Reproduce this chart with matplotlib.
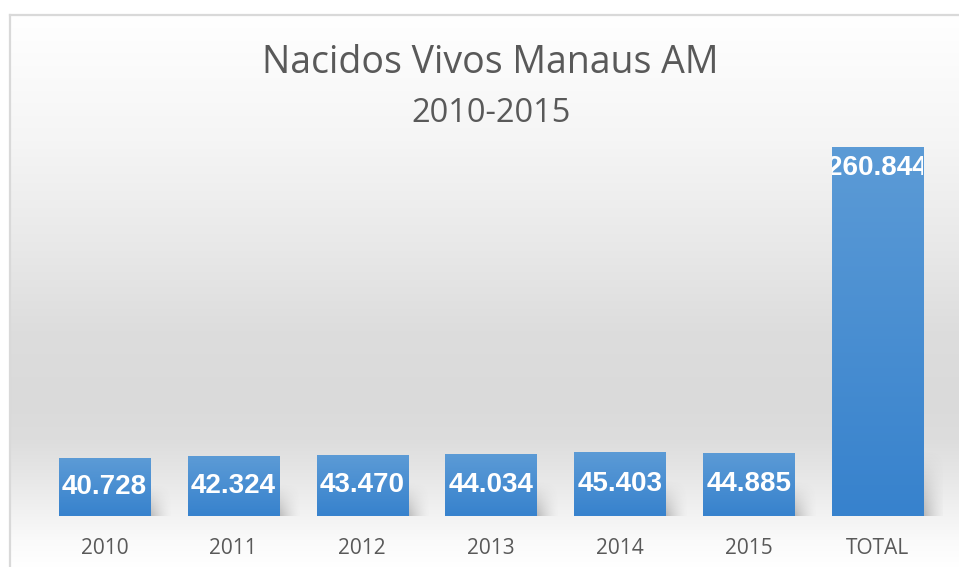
import numpy as np
import matplotlib
matplotlib.use("Agg")
from matplotlib import pyplot as plt
from matplotlib.lines import Line2D

# data
categorias = ["2010", "2011", "2012", "2013", "2014", "2015", "TOTAL"]
nacidos = [40728, 42324, 43470, 44034, 45403, 44885, 260844]
rotulos = ["40.728", "42.324", "43.470", "44.034", "45.403", "44.885", "260.844"]

W, H = 959, 567
fig = plt.figure(figsize=(W / 100, H / 100), dpi=100)

def fx(px):
    return px / W

def fy(py):
    return 1 - py / H

# background with vertical grey gradient inside the chart frame
bg = fig.add_axes([0, 0, 1, 1], zorder=0)
bg.set_axis_off()
rows = np.arange(H)
stops_y = [0, 15, 140, 250, 330, 400, 440, 480, 540, 567]
stops_v = [255, 255, 245, 232, 221, 218, 221, 232, 250, 255]
col = np.interp(rows, stops_y, stops_v) / 255.0
img = np.ones((H, W, 3))
img[:, :, :] = col[:, None, None]
img[:15, :, :] = 1.0
img[:, :10, :] = 1.0
bg.imshow(img, extent=(0, W, H, 0), aspect="auto", interpolation="bilinear")
bg.set_xlim(0, W)
bg.set_ylim(H, 0)
bg.add_line(Line2D([10, 10], [15, H], color="#d9d9d9", lw=1.6))
bg.add_line(Line2D([10, W], [15, 15], color="#d9d9d9", lw=1.6))

# main axes
ymax = 300000
top_px = 516 - ymax * 369 / 260844
ax = fig.add_axes([fx(40), fy(516), fx(942) - fx(40), (516 - top_px) / H], zorder=1)
ax.patch.set_alpha(0)
x = np.arange(len(categorias))
bars = ax.bar(x, nacidos, width=0.707, color="#4a8fd3", zorder=3)

# bar gradient + soft shadow
grad = np.linspace(0, 1, 100)[:, None]
top_c = np.array([0x5c, 0x9b, 0xd6]) / 255
bot_c = np.array([0x37, 0x82, 0xcd]) / 255
bar_img = top_c * (1 - grad[:, :, None]) + bot_c * grad[:, :, None]
for b, v in zip(bars, nacidos):
    x0 = b.get_x()
    w = b.get_width()
    im = ax.imshow(bar_img, extent=(x0, x0 + w, 0, v), aspect="auto",
                   zorder=4, interpolation="bilinear")
    im.set_clip_path(b)
    sh_h = min(0.55 * v, 47000)
    sw = 0.18
    xs = np.linspace(0, 1, 60)[None, :]
    ys = np.linspace(1, 0, 60)[:, None]
    alpha = 0.45 * (1 - xs) ** 1.6 * (1 - ys) ** 1.2
    sh = np.zeros((60, 60, 4))
    sh[:, :, :3] = 0.35
    sh[:, :, 3] = alpha
    ax.imshow(sh, extent=(x0 + w - 0.02, x0 + w + sw, 0, sh_h), aspect="auto",
              zorder=2, interpolation="bilinear")

ax.set_xlim(-0.5, len(categorias) - 0.5)
ax.set_ylim(0, ymax)

# value labels
for b, v, r in zip(bars, nacidos, rotulos):
    cx = b.get_x() + b.get_width() / 2
    if v > 100000:
        t = ax.annotate(r, (cx, v), xytext=(0, -6), textcoords="offset points",
                        ha="center", va="top", color="white", fontsize=20,
                        fontweight="bold", family="Liberation Sans", zorder=6)
    else:
        t = ax.text(cx, v / 2, r, ha="center", va="center", color="white",
                    fontsize=20, fontweight="bold", family="Liberation Sans",
                    zorder=6)
    t.set_clip_path(b)

ax.set_xticks(x, categorias)
ax.tick_params(axis="x", length=0, pad=16, labelsize=15, labelcolor="#595959")
for lbl in ax.get_xticklabels():
    lbl.set_family("Open Sans")
ax.set_yticks([])
for s in ax.spines.values():
    s.set_visible(False)

fig.text(fx(490), fy(73), "Nacidos Vivos Manaus AM", ha="center", va="baseline",
         fontsize=27, color="#595959", family="Open Sans", zorder=5)
fig.text(fx(491), fy(122), "2010-2015", ha="center", va="baseline",
         fontsize=23.5, color="#595959", family="Open Sans", zorder=5)

fig.savefig("out.png", dpi=100)
